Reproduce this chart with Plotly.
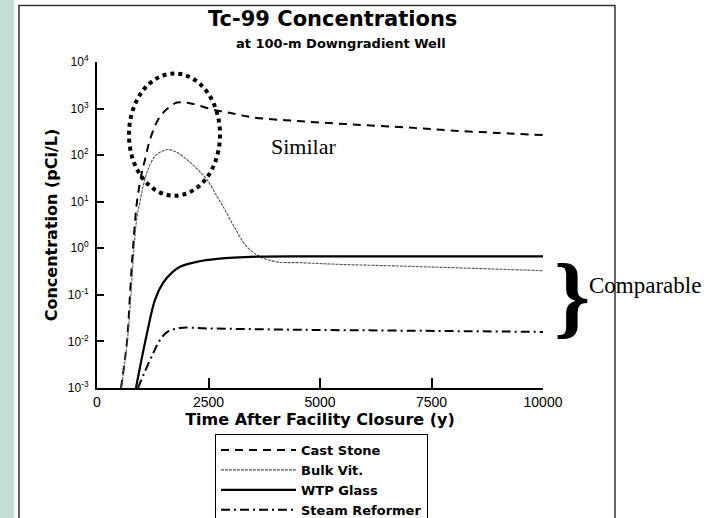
import plotly.graph_objects as go

# ---- data ----
series_names = ["Cast Stone", "Bulk Vit.", "WTP Glass", "Steam Reformer"]

cast_stone_t = [538, 673, 740, 807, 897, 1000, 1076, 1188, 1368, 1500, 1637, 1794, 2085,
                2600, 3050, 3500, 4500, 5670, 7000, 7915, 9000, 10000]
cast_stone_v = [0.001, 0.01, 0.1, 1.0, 10, 40, 80, 215, 575, 850, 1100, 1350, 1300,
                950, 780, 645, 540, 460, 390, 340, 300, 270]

bulk_vit_t = [545, 680, 760, 830, 900, 964, 1050, 1143, 1300, 1450, 1592, 1750, 2018, 2250,
              2466, 2690, 2825, 3050, 3363, 3655, 4036, 4550, 5500, 7000, 8500, 10000]
bulk_vit_v = [0.001, 0.01, 0.1, 1.0, 5, 10, 25, 49, 95, 120, 132, 120, 80, 50,
              30, 13, 8, 3.2, 1.07, 0.66, 0.51, 0.49, 0.45, 0.41, 0.37, 0.33]

wtp_glass_t = [874, 964, 1121, 1300, 1480, 1680, 1860, 2240, 2690, 3590, 5000, 7500, 10000]
wtp_glass_v = [0.001, 0.0028, 0.015, 0.078, 0.18, 0.3, 0.4, 0.51, 0.59, 0.66, 0.67, 0.67, 0.67]

steam_ref_t = [920, 1050, 1260, 1410, 1570, 1860, 2500, 4550, 7000, 10000]
steam_ref_v = [0.001, 0.002, 0.0056, 0.0107, 0.0158, 0.0195, 0.019, 0.0178, 0.017, 0.016]

x_ticks = [0, 2500, 5000, 7500, 10000]
x_tick_labels = ["0", "2500", "5000", "7500", "10000"]
x_minor_ticks = list(range(500, 10000, 500))
y_ticks = [1e-3, 1e-2, 1e-1, 1e0, 1e1, 1e2, 1e3, 1e4]
y_tick_labels = ["10<sup>-3</sup>", "10<sup>-2</sup>", "10<sup>-1</sup>", "10<sup>0</sup>",
                 "10<sup>1</sup>", "10<sup>2</sup>", "10<sup>3</sup>", "10<sup>4</sup>"]
y_minor_ticks = [m * d for d in y_ticks[:-1] for m in range(2, 10)]
title_text = "Tc-99 Concentrations"
subtitle_text = "at 100-m Downgradient Well"
x_title = "Time After Facility Closure (y)"
y_title = "Concentration (pCi/L)"

# ---- figure ----
fig = go.Figure()
styles = [
    dict(color="black", width=2, dash="8px,6px"),
    dict(color="#555555", width=1.1, dash="3px,1px"),
    dict(color="black", width=2.2, dash="solid"),
    dict(color="black", width=2, dash="9px,4px,2px,4px"),
]
data = [(cast_stone_t, cast_stone_v), (bulk_vit_t, bulk_vit_v),
        (wtp_glass_t, wtp_glass_v), (steam_ref_t, steam_ref_v)]
for name, (t, v), st in zip(series_names, data, styles):
    fig.add_trace(go.Scatter(x=t, y=v, mode="lines", name=name, line=st,
                             line_shape="spline"))

bold = "DejaVu Sans"
fig.update_layout(
    width=715, height=518,
    margin=dict(l=97, r=172, t=62, b=130, autoexpand=False),
    paper_bgcolor="white", plot_bgcolor="white",
    font=dict(family="Liberation Sans, Arial", color="black"),
    showlegend=True,
    legend=dict(x=0.2646, y=-0.1413, xanchor="left", yanchor="top",
                bordercolor="black", borderwidth=1, bgcolor="white",
                font=dict(family=bold, size=13, weight="bold"),
                itemwidth=75, tracegroupgap=0),
    xaxis=dict(range=[0, 10000], tickvals=x_ticks, ticktext=x_tick_labels,
               ticks="inside", ticklen=10,
               tickwidth=2, tickcolor="black", showline=True, linecolor="black",
               linewidth=2, showgrid=False, zeroline=False,
               tickfont=dict(size=14),
               title=dict(text=x_title, font=dict(family=bold, size=16, weight="bold"),
                          standoff=2)),
    yaxis=dict(type="log", range=[-3, 4], tickvals=y_ticks, ticktext=y_tick_labels,
               ticks="inside", ticklen=7, tickwidth=2, tickcolor="black",
               showline=True, linecolor="black", linewidth=2, showgrid=False,
               zeroline=False, tickfont=dict(size=12), ticklabelstandoff=4,
               title=dict(text=y_title, font=dict(family=bold, size=16, weight="bold"),
                          standoff=6)),
    # minor-tick overlay axes
    xaxis2=dict(overlaying="x", anchor="y", side="bottom", range=[0, 10000],
                tickmode="array", tickvals=x_minor_ticks, ticks="inside", ticklen=6,
                tickwidth=1, tickcolor="black", showticklabels=False,
                showline=False, showgrid=False, zeroline=False),
    yaxis2=dict(overlaying="y", anchor="x", side="left", type="log", range=[-3, 4],
                tickmode="array", tickvals=y_minor_ticks, ticks="inside", ticklen=4,
                tickwidth=1, tickcolor="black", showticklabels=False,
                showline=False, showgrid=False, zeroline=False),
)

# background strip and outer frame
fig.add_shape(type="rect", xref="paper", yref="paper", x0=-0.24, x1=-0.1861,
              y0=-0.6, y1=1.3, fillcolor="#c6ddd5", line=dict(width=0), layer="below")
fig.add_shape(type="rect", xref="paper", yref="paper", x0=-0.1749, x1=1.1614,
              y0=-0.6, y1=1.1736, line=dict(color="#333333", width=1.5), layer="below")
# dotted ellipse around the peaks
fig.add_shape(type="circle", xref="paper", yref="paper", x0=0.0717, x1=0.2758,
              y0=0.5899, y1=0.9647, line=dict(color="black", width=4, dash="4px,4px"))

def note(text, x, y, family, size):
    fig.add_annotation(text=text, xref="paper", yref="paper", x=x, y=y,
                       xanchor="center", yanchor="middle", showarrow=False,
                       font=dict(family=family, size=size))

note("<b>" + title_text + "</b>", 0.529, 1.1306, bold, 21)
note("<b>" + subtitle_text + "</b>", 0.547, 1.0568, bold, 13)
note("Similar", 0.464, 0.740, "Liberation Serif", 22)
note("<b>}</b>", 1.065, 0.285, "Liberation Serif", 92)
note("Comparable", 1.2287, 0.3134, "Liberation Serif", 23)

fig.write_html("out.html", config={"displayModeBar": False},
               post_script="document.body.style.margin='0';")
